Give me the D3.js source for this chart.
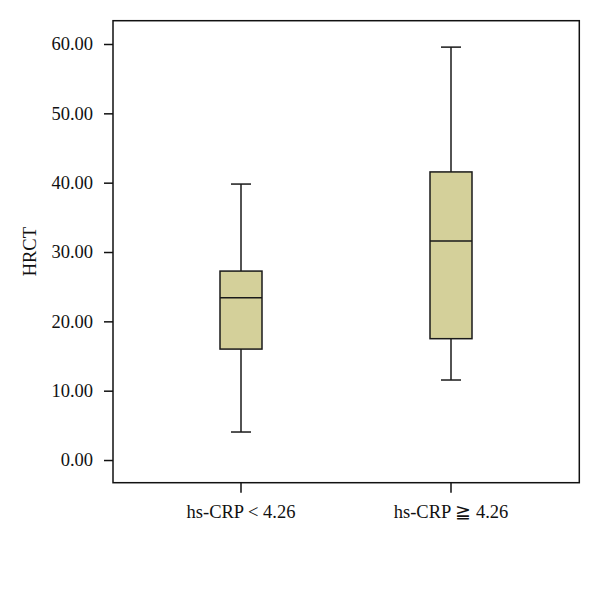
<!DOCTYPE html>
<html><head><meta charset="utf-8">
<script src="https://cdn.jsdelivr.net/npm/d3@7"></script>
<style>body{margin:0;background:#fff}svg{display:block}text{font-family:"Liberation Serif","DejaVu Serif",serif;fill:#111}</style>
</head><body>
<script>
const categories = ["hs-CRP < 4.26", "hs-CRP \u2267 4.26"];
const whiskerLow = [4.04, 11.54];
const q1 = [16.0, 17.5];
const median = [23.4, 31.6];
const q3 = [27.25, 41.55];
const whiskerHigh = [39.8, 59.55];
const yTicks = [0, 10, 20, 30, 40, 50, 60];
const yLabel = "HRCT";

const W = 600, H = 592;
const m = {left: 113, top: 20.7, right: 600 - 579.3, bottom: 592 - 482.7};
const svg = d3.select("body").append("svg").attr("width", W).attr("height", H);
const iw = W - m.left - m.right, ih = H - m.top - m.bottom;
const g = svg.append("g").attr("transform", `translate(${m.left},${m.top})`);

const y = d3.scaleLinear().domain([-3.27, 63.36]).range([ih, 0]);
// category centers at page x 241 and 451
const x0 = d3.scaleBand().domain(categories).range([241 - 105 - m.left, 451 + 105 - m.left]);
const cx = d => x0(d) + x0.bandwidth() / 2;
const FS = 18.5;

// frame
g.append("rect").attr("x", 0).attr("y", 0).attr("width", iw).attr("height", ih)
  .attr("fill", "none").attr("stroke", "#111").attr("stroke-width", 1.5);

// y axis
const ya = g.append("g").call(d3.axisLeft(y).tickValues(yTicks).tickFormat(d3.format(".2f")).tickSize(9).tickPadding(11));
ya.select(".domain").remove();
ya.selectAll("line").attr("stroke", "#111").attr("stroke-width", 1.5);
ya.selectAll("text").attr("font-size", FS).attr("font-family", '"Liberation Serif",serif').attr("fill", "#111");

// x axis
const xa = g.append("g").attr("transform", `translate(0,${ih})`)
  .call(d3.axisBottom(x0).tickSize(10).tickPadding(12));
xa.select(".domain").remove();
xa.selectAll("line").attr("stroke", "#111").attr("stroke-width", 1.5);
xa.selectAll("text").attr("font-size", FS).attr("font-family", '"Liberation Serif","DejaVu Serif",serif').attr("fill", "#111");

// y label
svg.append("text").attr("transform", `translate(36,251.7) rotate(-90)`)
  .attr("text-anchor", "middle").attr("font-size", FS).text(yLabel);

// boxes
const boxW = 42, capW = 20;
categories.forEach((c, i) => {
  const xc = cx(c);
  const gb = g.append("g").attr("stroke", "#1a1a1a").attr("stroke-width", 1.5);
  gb.append("line").attr("x1", xc).attr("x2", xc).attr("y1", y(whiskerHigh[i])).attr("y2", y(q3[i]));
  gb.append("line").attr("x1", xc).attr("x2", xc).attr("y1", y(q1[i])).attr("y2", y(whiskerLow[i]));
  gb.append("line").attr("x1", xc - capW/2).attr("x2", xc + capW/2).attr("y1", y(whiskerHigh[i])).attr("y2", y(whiskerHigh[i]));
  gb.append("line").attr("x1", xc - capW/2).attr("x2", xc + capW/2).attr("y1", y(whiskerLow[i])).attr("y2", y(whiskerLow[i]));
  gb.append("rect").attr("x", xc - boxW/2).attr("width", boxW)
    .attr("y", y(q3[i])).attr("height", y(q1[i]) - y(q3[i])).attr("fill", "#d4d09a");
  gb.append("line").attr("x1", xc - boxW/2).attr("x2", xc + boxW/2).attr("y1", y(median[i])).attr("y2", y(median[i]));
});
</script>
</body></html>
